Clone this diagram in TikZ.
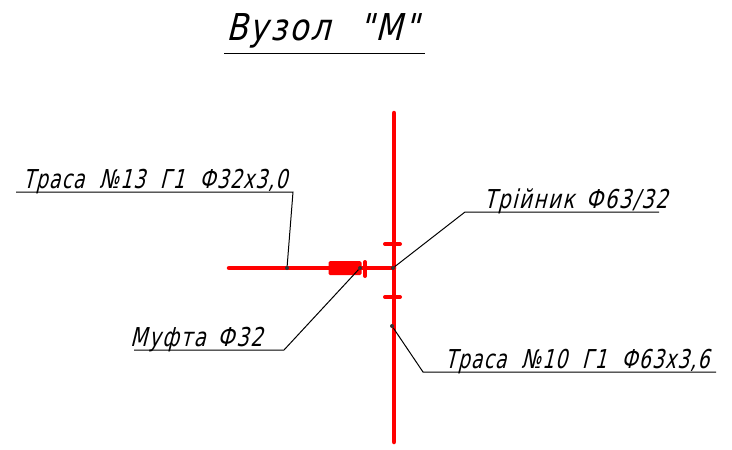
\documentclass[tikz,border=0pt]{standalone}
\usepackage{fontspec}
\setmainfont[FakeSlant=0.25,FakeStretch=0.72,LetterSpace=4.5,WordSpace=2.1]{DejaVu Sans}
\newfontfamily\shortfont[FakeSlant=0.25,FakeStretch=0.76,LetterSpace=6,WordSpace=1.5]{DejaVu Sans}
\newfontfamily\titlefont[FakeSlant=0.25,FakeStretch=0.84,LetterSpace=6,WordSpace=2.4]{DejaVu Sans}
\definecolor{pipe}{RGB}{255,0,0}
\tikzset{
  pipeline/.style={draw=pipe,line width=4.5pt,line cap=round},
  tick/.style={draw=pipe,line width=4pt,line cap=round},
  leader/.style={draw=black,line width=1pt},
  shelf/.style={draw=black,line width=1pt},
  lbl/.style={inner sep=0pt,anchor=base west,font=\fontsize{26}{26}\selectfont},
  shortlbl/.style={inner sep=0pt,anchor=base west,font=\shortfont\fontsize{26}{26}\selectfont},
  title/.style={inner sep=0pt,anchor=base west,font=\titlefont\fontsize{37}{37}\selectfont},
  dot/.style={circle,fill=black!80,inner sep=0pt,minimum size=4pt}
}
\begin{document}
\begin{tikzpicture}[x=1pt,y=-1pt]
\useasboundingbox (0,0) rectangle (732,450);
% pipes
\coordinate (vtop) at (394,113);
\coordinate (vbot) at (394,442);
\coordinate (hleft) at (229,268);
\coordinate (tee) at (394,268);
\draw[pipeline] (vtop) -- (vbot);
\draw[pipeline] (hleft) -- (tee);
\coordinate (t1a) at (385,244); \coordinate (t1b) at (400,244);
\coordinate (t2a) at (385,297); \coordinate (t2b) at (400,297);
\coordinate (t3a) at (365,262); \coordinate (t3b) at (365,276);
\draw[tick] (t1a) -- (t1b);
\draw[tick] (t2a) -- (t2b);
\draw[tick] (t3a) -- (t3b);
\node[fill=pipe,rounded corners=1.5pt,minimum width=33pt,minimum height=14pt,inner sep=0pt] (coupling) at (345,268) {};
% leader dots
\node[dot] (d13) at (287,268) {};
\node[dot] (dm) at (360,268) {};
\node[dot] (dt) at (393,268) {};
\node[dot] (d10) at (392,326) {};
% titles
\node[title] (ttl) at (226,40) {Вузол "М"};
\coordinate (ta) at (224,53); \coordinate (tb) at (425,53);
\draw[shelf] (ta) -- (tb);
% labels
\node[lbl] (l13) at (23,188) {Траса №13 Г1 Ф32х3,0};
\coordinate (s13a) at (16,192); \coordinate (s13b) at (293,192);
\draw[leader] (s13a) -- (s13b) -- (d13);
\node[shortlbl] (lt) at (484,208) {Трійник Ф63/32};
\coordinate (sta) at (659,212); \coordinate (stb) at (465,212);
\draw[leader] (sta) -- (stb) -- (dt);
\node[shortlbl] (lm) at (130,346) {Муфта Ф32};
\coordinate (sma) at (134,350); \coordinate (smb) at (284,350);
\draw[leader] (sma) -- (smb) -- (dm);
\node[lbl] (l10) at (445,368) {Траса №10 Г1 Ф63х3,6};
\coordinate (s10a) at (716,372); \coordinate (s10b) at (423,372);
\draw[leader] (s10a) -- (s10b) -- (d10);
\end{tikzpicture}
\end{document}
